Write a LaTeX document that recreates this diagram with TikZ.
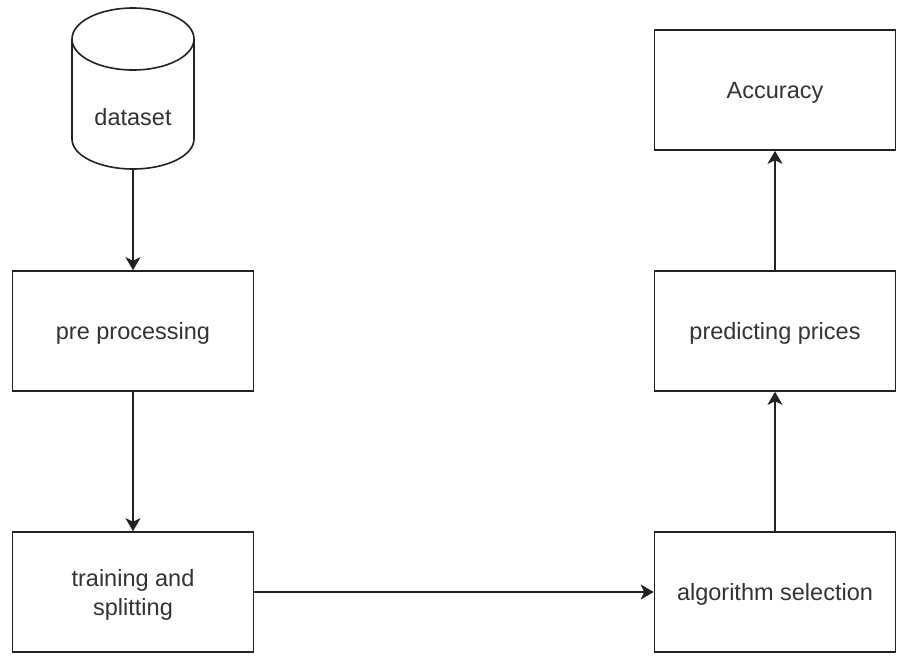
\documentclass[tikz,border=0pt]{standalone}
\usepackage{fontspec}
\setmainfont{Liberation Sans}
\usetikzlibrary{arrows.meta}
\definecolor{linecol}{HTML}{222222}
\definecolor{textcol}{HTML}{333333}
\begin{document}
\begin{tikzpicture}[x=1pt,y=-1pt,
  box/.style={draw=linecol, line width=1.6pt, minimum width=241pt, minimum height=120pt,
    font=\fontsize{23.5}{29}\selectfont, text=textcol, align=center, inner sep=0pt, text depth=0pt},
  lbl/.style={font=\fontsize{23.5}{29}\selectfont, text=textcol, inner sep=0pt},
  shapeline/.style={draw=linecol, line width=1.6pt},
  arr/.style={draw=linecol, line width=1.6pt, -{Stealth[length=13pt,width=15pt,inset=3.5pt]}}]
\useasboundingbox (0,0) rectangle (898,656);
\fill[white] (0,0) rectangle (898,656);
% cylinder
\node[minimum width=122pt, minimum height=161pt, inner sep=0pt, outer sep=0.8pt] (ds) at (133,88.5) {};
\draw[shapeline, fill=white] (72,39) -- (72,139) arc[start angle=180, end angle=360, x radius=61pt, y radius=30pt] -- (194,39);
\draw[shapeline] (133,39) ellipse [x radius=61pt, y radius=31pt];
\node[lbl] (dstext) at (133,117) {dataset};
% boxes
\node[box] (pre) at (133,331) {pre processing};
\node[box] (train) at (133,592) {training and\\splitting};
\node[box] (alg) at (775,592) {algorithm selection};
\node[box] (pred) at (775,331) {predicting prices};
\node[box] (acc) at (775,90) {Accuracy};
% connectors
\draw[arr] (ds.south) -- (pre.north);
\draw[arr] (pre.south) -- (train.north);
\draw[arr] (train.east) -- (alg.west);
\draw[arr] (alg.north) -- (pred.south);
\draw[arr] (pred.north) -- (acc.south);
\end{tikzpicture}
\end{document}
